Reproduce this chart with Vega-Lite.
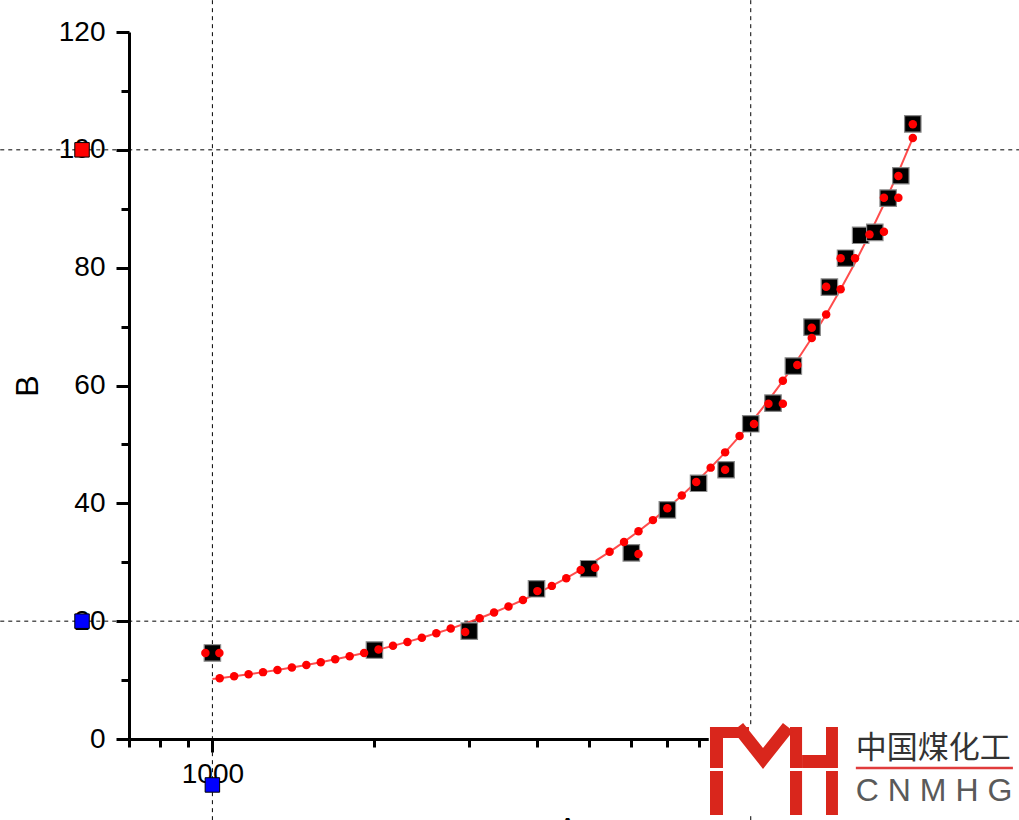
{
  "$schema": "https://vega.github.io/schema/vega-lite/v6.json",
  "width": 890,
  "height": 707,
  "autosize": {"type": "none"},
  "padding": {"left": 129, "top": 32, "right": 0, "bottom": 81},
  "background": "white",
  "config": {"view": {"stroke": null}, "font": "Liberation Sans"},
  "datasets": {
    "squares": [
      {"x": 1000, "y": 14.6}, {"x": 2000, "y": 15.1}, {"x": 3000, "y": 18.3}, {"x": 4000, "y": 25.5},
      {"x": 5000, "y": 28.9}, {"x": 6000, "y": 31.6}, {"x": 7000, "y": 38.9}, {"x": 8000, "y": 43.4},
      {"x": 9000, "y": 45.7}, {"x": 10000, "y": 53.5}, {"x": 11000, "y": 57.0}, {"x": 12000, "y": 63.3},
      {"x": 13000, "y": 69.9}, {"x": 14000, "y": 76.7}, {"x": 15000, "y": 81.6}, {"x": 16000, "y": 85.5},
      {"x": 17000, "y": 86.0}, {"x": 18000, "y": 91.8}, {"x": 19000, "y": 95.6}, {"x": 20000, "y": 104.4}
    ],
    "fit": [
      {"x": 1000, "y": 10.18}, {"x": 1031.7, "y": 10.33}, {"x": 1097.5, "y": 10.65}, {"x": 1167.4, "y": 10.99},
      {"x": 1241.8, "y": 11.35}, {"x": 1320.9, "y": 11.73}, {"x": 1405, "y": 12.14}, {"x": 1494.6, "y": 12.57},
      {"x": 1589.8, "y": 13.03}, {"x": 1691.1, "y": 13.52}, {"x": 1798.8, "y": 14.04}, {"x": 1913.4, "y": 14.6},
      {"x": 2035.3, "y": 15.18}, {"x": 2165, "y": 15.81}, {"x": 2302.9, "y": 16.48}, {"x": 2449.6, "y": 17.19},
      {"x": 2605.7, "y": 17.94}, {"x": 2771.7, "y": 18.74}, {"x": 2948.3, "y": 19.6}, {"x": 3136.1, "y": 20.5},
      {"x": 3335.9, "y": 21.47}, {"x": 3548.4, "y": 22.5}, {"x": 3774.5, "y": 23.59}, {"x": 4015, "y": 24.75},
      {"x": 4270.8, "y": 25.99}, {"x": 4543, "y": 27.3}, {"x": 4832, "y": 28.7}, {"x": 5140, "y": 30.19},
      {"x": 5468, "y": 31.77}, {"x": 5816, "y": 33.45}, {"x": 6187, "y": 35.25}, {"x": 6581, "y": 37.15},
      {"x": 7000, "y": 39.17}, {"x": 7446, "y": 41.33}, {"x": 7920, "y": 43.62}, {"x": 8425, "y": 46.06},
      {"x": 8962, "y": 48.65}, {"x": 9533, "y": 51.41}, {"x": 10140, "y": 54.35}, {"x": 10786, "y": 57.47},
      {"x": 11473, "y": 60.79}, {"x": 12204, "y": 64.32}, {"x": 12981, "y": 68.07}, {"x": 13808, "y": 72.07},
      {"x": 14688, "y": 76.32}, {"x": 15623, "y": 80.84}, {"x": 16618, "y": 85.65}, {"x": 17677, "y": 90.76},
      {"x": 18803, "y": 96.21}, {"x": 20000, "y": 101.99}
    ],
    "dots": [
      {"x": 970.5, "y": 14.6}, {"x": 1030.4, "y": 14.6},
      {"x": 1031.7, "y": 10.33}, {"x": 1097.5, "y": 10.65}, {"x": 1167.4, "y": 10.99}, {"x": 1241.8, "y": 11.35},
      {"x": 1320.9, "y": 11.73}, {"x": 1405, "y": 12.14}, {"x": 1494.6, "y": 12.57}, {"x": 1589.8, "y": 13.03},
      {"x": 1691.1, "y": 13.52}, {"x": 1798.8, "y": 14.04}, {"x": 1913.4, "y": 14.6}, {"x": 2035.3, "y": 15.18},
      {"x": 2165, "y": 15.81}, {"x": 2302.9, "y": 16.48}, {"x": 2449.6, "y": 17.19}, {"x": 2605.7, "y": 17.94},
      {"x": 2771.7, "y": 18.74}, {"x": 2948.3, "y": 18.16}, {"x": 3136.1, "y": 20.5}, {"x": 3335.9, "y": 21.47},
      {"x": 3548.4, "y": 22.5}, {"x": 3774.5, "y": 23.59}, {"x": 4015, "y": 25.1}, {"x": 4270.8, "y": 25.99},
      {"x": 4543, "y": 27.3}, {"x": 4832, "y": 28.7}, {"x": 5140, "y": 29.07}, {"x": 5468, "y": 31.77},
      {"x": 5816, "y": 33.45}, {"x": 6187, "y": 35.25}, {"x": 6187, "y": 31.4}, {"x": 6581, "y": 37.15},
      {"x": 7000, "y": 39.17}, {"x": 7446, "y": 41.33}, {"x": 7920, "y": 43.62}, {"x": 8425, "y": 46.06},
      {"x": 8962, "y": 48.65}, {"x": 8962, "y": 45.71}, {"x": 9533, "y": 51.41}, {"x": 10140, "y": 53.46},
      {"x": 10786, "y": 56.91}, {"x": 11473, "y": 60.79}, {"x": 11473, "y": 56.91}, {"x": 12204, "y": 63.48},
      {"x": 12981, "y": 68.07}, {"x": 12981, "y": 69.81}, {"x": 13808, "y": 72.07}, {"x": 13808, "y": 76.77},
      {"x": 14688, "y": 76.32}, {"x": 14688, "y": 81.59}, {"x": 15623, "y": 81.59}, {"x": 16618, "y": 85.65},
      {"x": 17677, "y": 86.1}, {"x": 17677, "y": 91.87}, {"x": 18803, "y": 91.87}, {"x": 18803, "y": 95.55},
      {"x": 20000, "y": 101.99}, {"x": 20000, "y": 104.36}
    ],
    "handles": [
      {"x": 572.6, "y": 20, "h": "min"},
      {"x": 572.6, "y": 100, "h": "max"},
      {"x": 1000, "y": -7.8, "h": "min"}
    ],
    "vgrid": [{"x": 1000, "y": 125.4, "y2": -13.9}, {"x": 10000, "y": 125.4, "y2": -13.9}],
    "hgrid": [{"x": 403.6, "x2": 31500, "y": 20}, {"x": 403.6, "x2": 31500, "y": 100}],
    "logoBox": [{"x": 8356, "x2": 31500, "y": 2.2, "y2": -12.9}],
    "logoRects": [
      {"x": 8400, "x2": 8881, "y": 2.04, "y2": -4.92},
      {"x": 8400, "x2": 8881, "y": -5.43, "y2": -12.9},
      {"x": 8400, "x2": 9927, "y": 2.04, "y2": 0.17},
      {"x": 11829, "x2": 12455, "y": 2.04, "y2": -4.92},
      {"x": 11829, "x2": 12455, "y": -5.43, "y2": -12.9},
      {"x": 12455, "x2": 13857, "y": -2.72, "y2": -4.92},
      {"x": 13799, "x2": 14522, "y": 2.04, "y2": -4.92},
      {"x": 13799, "x2": 14522, "y": -5.43, "y2": -12.9}
    ],
    "logoV": [{"x": 9471, "y": 2.04}, {"x": 10539, "y": -3.3}, {"x": 11729, "y": 2.04}],
    "logoCn": [{"x": 15677, "y": -1.7, "label": "中国煤化工"}],
    "logoLine": [{"x": 15677, "x2": 30690, "y": -4.92}],
    "logoEn": [{"x": 15677, "y": -8.91, "label": "C N M H G"}]
  },
  "encoding": {
    "x": {
      "field": "x", "type": "quantitative",
      "scale": {"type": "log", "domain": [700, 31500], "nice": false},
      "axis": {
        "title": "A",
        "values": [700, 800, 900, 1000, 2000, 3000, 4000, 5000, 6000, 7000, 8000, 9000, 10000, 20000, 30000],
        "labelExpr": "datum.value == 1000 || datum.value == 10000 ? format(datum.value, 'd') : ''",
        "tickSize": {"condition": {"test": "datum.value == 1000 || datum.value == 10000", "value": 13}, "value": 8},
        "tickWidth": 3, "tickColor": "black", "domainColor": "black", "domainWidth": 3,
        "labelFont": "Liberation Sans", "labelFontSize": 28, "labelColor": "black", "labelPadding": 8,
        "labelOverlap": false, "labelFlush": false, "grid": false,
        "titleFont": "Liberation Sans", "titleFontSize": 30, "titleFontWeight": "normal", "titleColor": "black", "titlePadding": 25,
        "titleX": 438
      }
    },
    "y": {
      "field": "y", "type": "quantitative",
      "scale": {"domain": [0, 120], "nice": false, "zero": false},
      "axis": {
        "title": "B",
        "values": [0, 10, 20, 30, 40, 50, 60, 70, 80, 90, 100, 110, 120],
        "labelExpr": "datum.value % 20 === 0 ? datum.label : ''",
        "tickSize": {"condition": {"test": "datum.value % 20 === 0", "value": 13}, "value": 8},
        "tickWidth": 3, "tickColor": "black", "domainColor": "black", "domainWidth": 3,
        "labelFont": "Liberation Sans", "labelFontSize": 28, "labelColor": "black", "labelPadding": 11,
        "labelOverlap": false, "grid": false,
        "titleFont": "Liberation Sans", "titleFontSize": 32, "titleFontWeight": "normal", "titleColor": "black", "titlePadding": 14
      }
    }
  },
  "layer": [
    {
      "data": {"name": "vgrid"},
      "mark": {"type": "rule", "color": "black", "strokeWidth": 1, "strokeDash": [4, 4]},
      "encoding": {"y2": {"field": "y2"}}
    },
    {
      "data": {"name": "hgrid"},
      "mark": {"type": "rule", "color": "black", "strokeWidth": 1, "strokeDash": [4, 4]},
      "encoding": {"x2": {"field": "x2"}}
    },
    {
      "data": {"name": "fit"},
      "mark": {"type": "line", "color": "#ff0000", "strokeWidth": 2, "opacity": 0.7},
      "encoding": {}
    },
    {
      "data": {"name": "squares"},
      "mark": {"type": "point", "shape": "square", "filled": true, "size": 270, "color": "black", "stroke": "#8a8a8a", "strokeWidth": 1.2, "opacity": 1},
      "encoding": {}
    },
    {
      "data": {"name": "dots"},
      "mark": {"type": "point", "shape": "circle", "filled": true, "size": 72, "color": "#ff0000", "opacity": 1},
      "encoding": {}
    },
    {
      "data": {"name": "handles"},
      "mark": {"type": "point", "shape": "square", "filled": true, "size": 210, "stroke": "black", "strokeWidth": 1, "opacity": 1},
      "encoding": {
        "fill": {"field": "h", "type": "nominal", "scale": {"domain": ["min", "max"], "range": ["#0000ff", "#ff0000"]}, "legend": null}
      }
    },
    {
      "data": {"name": "logoBox"},
      "mark": {"type": "rect", "color": "white", "opacity": 1},
      "encoding": {"x2": {"field": "x2"}, "y2": {"field": "y2"}}
    },
    {
      "data": {"name": "logoRects"},
      "mark": {"type": "rect", "color": "#d9261c", "opacity": 1},
      "encoding": {"x2": {"field": "x2"}, "y2": {"field": "y2"}}
    },
    {
      "data": {"name": "logoV"},
      "mark": {"type": "line", "color": "#d9261c", "strokeWidth": 13, "strokeJoin": "miter", "strokeCap": "butt", "opacity": 1},
      "encoding": {}
    },
    {
      "data": {"name": "logoCn"},
      "mark": {"type": "text", "font": "Noto Sans CJK SC", "fontSize": 31, "color": "#333333", "align": "left", "baseline": "middle"},
      "encoding": {"text": {"field": "label"}}
    },
    {
      "data": {"name": "logoLine"},
      "mark": {"type": "rule", "color": "#e03c3c", "strokeWidth": 2.5},
      "encoding": {"x2": {"field": "x2"}}
    },
    {
      "data": {"name": "logoEn"},
      "mark": {"type": "text", "font": "Liberation Sans", "fontSize": 32, "color": "#5a5a5a", "align": "left", "baseline": "middle"},
      "encoding": {"text": {"field": "label"}}
    }
  ]
}
